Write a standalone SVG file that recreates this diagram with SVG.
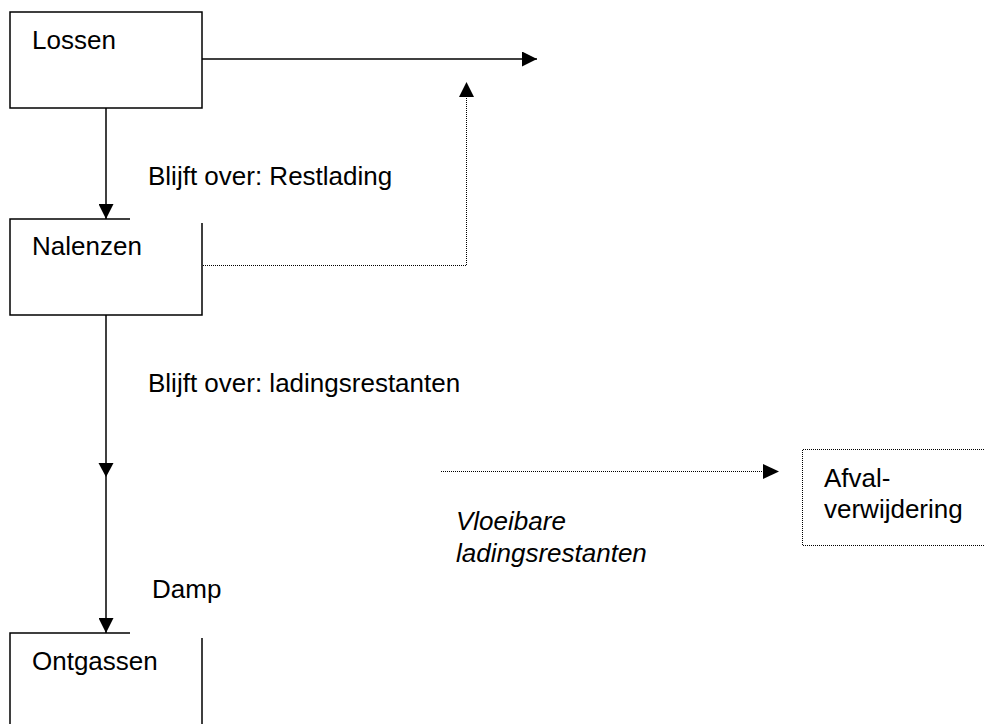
<svg xmlns="http://www.w3.org/2000/svg" width="985" height="724" viewBox="0 0 985 724">
<style>
  text { font-family: "Liberation Sans", Arial, sans-serif; font-size: 26px; fill: #000; }
  .it { font-style: italic; }
  .box { fill: none; stroke: #000; stroke-width: 1.5; }
  .solid { fill: none; stroke: #000; stroke-width: 1.5; }
  .dot { fill: none; stroke: #000; stroke-width: 1; stroke-dasharray: 1 1; }
</style>
<defs>
  <marker id="ah" markerUnits="userSpaceOnUse" markerWidth="15" markerHeight="15" viewBox="0 0 15 15" refX="15" refY="7.5" orient="auto">
    <path d="M0,0 L15,7.5 L0,15 Z" fill="#000"/>
  </marker>
</defs>
<rect width="985" height="724" fill="#fff"/>
<g id="lossen">
  <rect class="box" x="10" y="12" width="192" height="96"/>
  <text x="32" y="49">Lossen</text>
</g>
<g id="nalenzen">
  <path class="box" d="M130,219 H10 V315 H202 V223"/>
  <text x="32" y="255">Nalenzen</text>
</g>
<g id="ontgassen">
  <path class="box" d="M130,633 H10 V730 M202,638 V730"/>
  <text x="32" y="670">Ontgassen</text>
</g>
<g id="afvalverwijdering">
  <path class="dot" d="M990,449.5 H802.5 V545.5 H990"/>
  <text x="824" y="487">Afval-</text>
  <text x="824" y="518">verwijdering</text>
</g>
<g id="connectors">
  <line class="solid" x1="202" y1="59" x2="537" y2="59" marker-end="url(#ah)"/>
  <line class="solid" x1="106" y1="108" x2="106" y2="219" marker-end="url(#ah)"/>
  <polyline class="dot" points="203,265.5 466.5,265.5 466.5,97"/>
  <path d="M459,97 L466.5,82 L474,97 Z" fill="#000"/>
  <line class="solid" x1="106" y1="315" x2="106" y2="633" marker-end="url(#ah)"/>
  <path d="M98.5,463 L113.5,463 L106,477 Z" fill="#000"/>
  <line class="dot" x1="441" y1="471.5" x2="764" y2="471.5"/>
  <path d="M763,464 L779,471.5 L763,479 Z" fill="#000"/>
</g>
<g id="labels">
  <text x="148" y="185">Blijft over: Restlading</text>
  <text x="148" y="392">Blijft over: ladingsrestanten</text>
  <text x="152" y="598">Damp</text>
  <text class="it" x="456" y="530">Vloeibare</text>
  <text class="it" x="456" y="562">ladingsrestanten</text>
</g>
</svg>
